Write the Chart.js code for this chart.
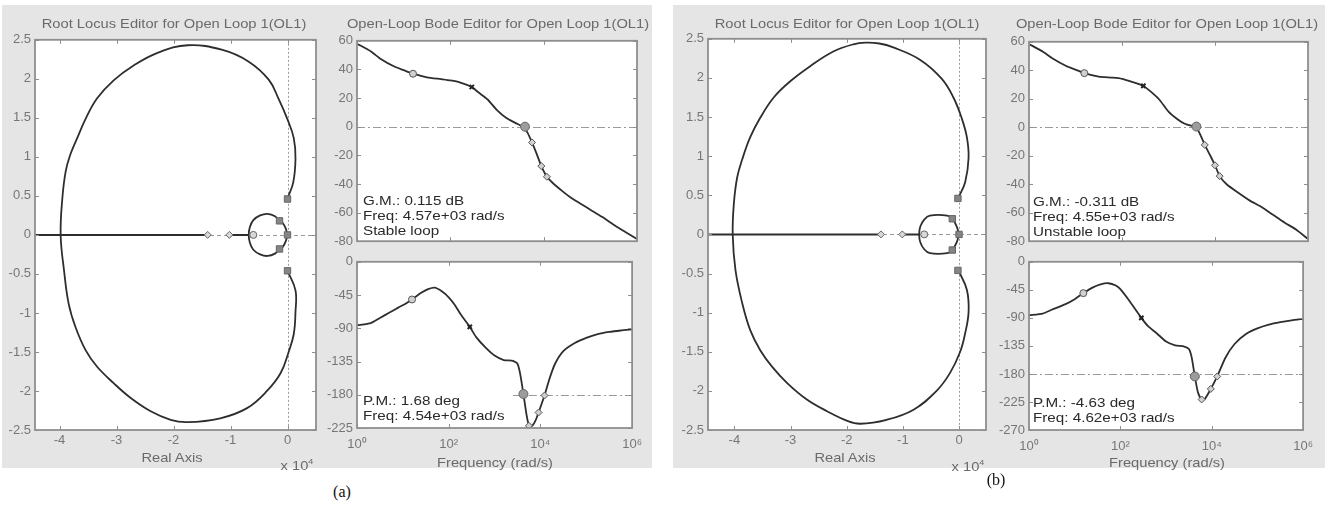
<!DOCTYPE html>
<html>
<head>
<meta charset="utf-8">
<title>SISO design: root locus and open-loop Bode</title>
<script src="https://cdn.jsdelivr.net/npm/chart.js@4.4.0/dist/chart.umd.min.js"></script>
<style>
  body { margin: 0; background: #fff; width: 1338px; height: 507px; position: relative; overflow: hidden;
         font-family: "Liberation Sans", Arial, sans-serif; }
  .panel { position: absolute; background: #e5e5e5; }
  canvas { position: absolute; z-index: 1; }
  .lbl { position: absolute; z-index: 2; white-space: nowrap; color: #6a6a6a; font-size: 13px; transform: translate(-50%, -50%) scaleX(1.13); }
  .note { position: absolute; z-index: 2; white-space: nowrap; color: #2a2a2a; font-size: 13px; line-height: 15px;
          transform: scaleX(1.17); transform-origin: 0 0; }
  .cap { position: absolute; z-index: 2; font-family: "Liberation Serif", "Times New Roman", serif; font-size: 16px; color: #111;
         transform: translate(-50%, -50%); }
</style>
</head>
<body>
<div class="panel" style="left:2px;top:5px;width:650px;height:463px"></div>
<div class="panel" style="left:673px;top:5px;width:652px;height:463px"></div>

<div class="lbl" style="left:174px;top:23px">Root Locus Editor for Open Loop 1(OL1)</div>
<div class="lbl" style="left:498px;top:23px">Open-Loop Bode Editor for Open Loop 1(OL1)</div>
<div class="lbl" style="left:172px;top:457px">Real Axis</div>
<div class="lbl" style="left:297px;top:465px">x 10<sup style="font-size:8px">4</sup></div>
<div class="lbl" style="left:495px;top:462px">Frequency (rad/s)</div>
<div class="note" style="left:363px;top:193px">G.M.: 0.115 dB<br>Freq: 4.57e+03 rad/s<br>Stable loop</div>
<div class="note" style="left:363px;top:393px">P.M.: 1.68 deg<br>Freq: 4.54e+03 rad/s</div>
<div class="cap" style="left:342px;top:492px">(a)</div>

<div class="lbl" style="left:847px;top:23px">Root Locus Editor for Open Loop 1(OL1)</div>
<div class="lbl" style="left:1167px;top:23px">Open-Loop Bode Editor for Open Loop 1(OL1)</div>
<div class="lbl" style="left:845px;top:457px">Real Axis</div>
<div class="lbl" style="left:968px;top:466px">x 10<sup style="font-size:8px">4</sup></div>
<div class="lbl" style="left:1167px;top:462px">Frequency (rad/s)</div>
<div class="note" style="left:1033px;top:194px">G.M.: -0.311 dB<br>Freq: 4.55e+03 rad/s<br>Unstable loop</div>
<div class="note" style="left:1033px;top:395px">P.M.: -4.63 deg<br>Freq: 4.62e+03 rad/s</div>
<div class="cap" style="left:996px;top:480px">(b)</div>

<script>
// ---- data ----
// root locus, real axis in units of 1e4
const REAL_TICKS = [-4, -3, -2, -1, 0];
const IMAG_TICKS_STEP = 0.5;

// (a) big branch, from the upper closed-loop pole round the left and back down
const rlBigXA = [0.0, 0.1, 0.14, 0.11, 0.0, -0.16, -0.33, -0.68, -1.14, -1.75, -2.29, -2.7, -3.05, -3.34, -3.54, -3.69, -3.81, -3.89, -3.95, -3.98,
                 -3.92, -3.84, -3.72, -3.54, -3.34, -3.05, -2.75, -2.4, -2.05, -1.76, -1.18, -0.71, -0.36, -0.12, 0.02, 0.11, 0.14, 0.14, 0.0];
const rlBigYA = [0.47, 0.67, 0.98, 1.24, 1.48, 1.75, 1.99, 2.22, 2.37, 2.43, 2.33, 2.17, 1.98, 1.75, 1.49, 1.24, 1.03, 0.82, 0.47, 0.0,
                 -0.46, -0.88, -1.18, -1.48, -1.69, -1.9, -2.09, -2.26, -2.37, -2.4, -2.35, -2.22, -2.0, -1.77, -1.5, -1.27, -0.99, -0.71, -0.46];
// (a) small loop round the zero
const rlLoopXA = [0, -0.03, -0.08, -0.14, -0.22, -0.35, -0.48, -0.6, -0.66, -0.68, -0.66, -0.6, -0.48, -0.35, -0.22, -0.14, -0.08, -0.03, 0];
const rlLoopYA = [0, 0.08, 0.15, 0.18, 0.24, 0.27, 0.25, 0.19, 0.1, 0, -0.1, -0.19, -0.25, -0.27, -0.24, -0.18, -0.15, -0.08, 0];
const rlSegsA = [[-4.8, -1.4], [-1.02, -0.68]];
const rlDiamondXA = [-1.4, -1.02];
const rlZeroXA = [-0.6];
const rlPoleXA = [0.0, -0.14, 0.0, -0.14, 0.0];
const rlPoleYA = [0.46, 0.18, 0.0, -0.18, -0.46];

// (b)
const rlBigXB = [-0.01, 0.11, 0.17, 0.14, 0.05, -0.1, -0.31, -0.69, -1.17, -1.42, -1.67, -1.88, -2.23, -2.65, -3.0, -3.3, -3.54, -3.72, -3.86, -3.95, -4.01, -4.03,
                 -3.98, -3.86, -3.72, -3.54, -3.33, -3.06, -2.71, -2.35, -2.0, -1.76, -1.29, -0.81, -0.4, -0.16, 0.02, 0.11, 0.17, 0.14, -0.01];
const rlBigYB = [0.47, 0.67, 0.98, 1.24, 1.48, 1.75, 1.99, 2.23, 2.39, 2.44, 2.45, 2.43, 2.34, 2.15, 1.96, 1.75, 1.49, 1.24, 0.96, 0.73, 0.39, 0.0,
                 -0.46, -0.88, -1.22, -1.48, -1.69, -1.9, -2.11, -2.26, -2.38, -2.42, -2.37, -2.24, -2.0, -1.77, -1.5, -1.26, -0.99, -0.71, -0.46];
const rlLoopXB = [0, -0.04, -0.12, -0.21, -0.52, -0.62, -0.69, -0.71, -0.69, -0.62, -0.52, -0.21, -0.12, -0.04, 0];
const rlLoopYB = [0, 0.1, 0.2, 0.24, 0.24, 0.19, 0.1, 0, -0.1, -0.19, -0.24, -0.24, -0.2, -0.1, 0];
const rlSegsB = [[-4.8, -1.39], [-1.01, -0.71]];
const rlDiamondXB = [-1.39, -1.01];
const rlZeroXB = [-0.62];
const rlPoleXB = [-0.02, -0.12, 0.0, -0.12, -0.02];
const rlPoleYB = [0.46, 0.2, 0.0, -0.2, -0.46];

// Bode, frequency given as log10(rad/s)
const FREQ_TICKS = [1, 100, 10000, 1000000];
const FREQ_TICK_LABELS = ['10\u2070', '10\u00b2', '10\u2074', '10\u2076'];

const magExpA = [0, 0.3, 0.5, 0.8, 1.0, 1.2, 1.5, 1.8, 2.0, 2.2, 2.46, 2.6, 2.8, 3.0, 3.2, 3.4, 3.55, 3.65, 3.75, 3.85, 3.95, 4.07, 4.2, 4.4, 4.6, 4.8, 5.0, 5.25, 5.5, 5.75, 6.0];
const magA = [58, 52.5, 47.5, 42, 39.5, 37, 34.5, 33.2, 32.3, 31, 27.7, 24, 19, 11.5, 6, 2.5, 0, -4, -11, -19, -27.5, -35, -39.5, -45, -50, -54, -58, -63, -68.5, -73.5, -78.5];
const phaseExpA = [0, 0.3, 0.5, 0.7, 0.9, 1.05, 1.2, 1.4, 1.55, 1.7, 1.85, 2.0, 2.13, 2.26, 2.46, 2.6, 2.8, 3.0, 3.2, 3.4, 3.5, 3.56, 3.63, 3.7, 3.75, 3.82, 3.9, 3.96, 4.09, 4.2, 4.32, 4.5, 4.75, 5.0, 5.25, 5.5, 5.75, 6.0];
const phaseA = [-86, -83, -76, -69, -62, -57, -51, -42, -37, -35, -40, -48, -58, -71, -88, -102, -116, -127, -133, -134, -138, -152, -179, -208, -221, -222, -214, -204, -181, -158, -138, -121, -110, -103, -98, -95, -93, -91.5];

const magExpB = [0, 0.3, 0.5, 0.8, 1.0, 1.19, 1.5, 1.8, 2.0, 2.2, 2.46, 2.6, 2.8, 3.0, 3.2, 3.35, 3.5, 3.6, 3.68, 3.78, 3.9, 4.0, 4.1, 4.25, 4.5, 4.75, 5.0, 5.25, 5.5, 5.75, 6.0];
const magB = [58.5, 53, 48.5, 43, 40.5, 38, 35.5, 34.8, 34, 32, 29, 25.5, 19.5, 11, 5.5, 2.5, 1, 0, -5, -12.4, -20, -26.7, -34.3, -40, -46, -51.5, -56, -61.5, -67, -72, -78.5];
const phaseExpB = [0, 0.3, 0.5, 0.8, 1.0, 1.19, 1.4, 1.55, 1.74, 1.9, 2.0, 2.2, 2.46, 2.6, 2.8, 3.0, 3.2, 3.4, 3.5, 3.56, 3.63, 3.7, 3.78, 3.85, 3.98, 4.12, 4.3, 4.5, 4.75, 5.0, 5.25, 5.5, 5.75, 6.0];
const phaseB = [-86, -83, -77, -68, -60, -50.3, -41, -36.5, -34.4, -38, -44, -63, -90, -103, -115, -128, -134, -136, -140, -153, -184, -210, -221, -220, -204, -184, -154, -132, -116, -107, -101, -97, -94, -91.6];

// compensator / crossing markers on the Bode curves: [log10 w, value]
const magMarkA = { circle: [[1.2, 37]], cross: [[2.46, 27.7]], big: [[3.6, 0]], diamond: [[3.75, -11], [3.95, -27.5], [4.07, -35]] };
const phaseMarkA = { circle: [[1.2, -51]], cross: [[2.46, -88]], big: [[3.63, -179]], diamond: [[3.75, -222], [3.96, -204], [4.09, -181]] };
const magMarkB = { circle: [[1.19, 38]], cross: [[2.46, 29]], big: [[3.6, 0.5]], diamond: [[3.78, -12.4], [4.0, -26.7], [4.1, -34.3]] };
const phaseMarkB = { circle: [[1.19, -50.3]], cross: [[2.46, -90]], big: [[3.63, -184]], diamond: [[3.78, -221], [3.98, -204], [4.12, -184]] };

// where the -180 deg reference starts in (a), log10 w
const PHASE_REF_START_A = 3.4;

// ---- styling ----
const CURVE = '#2e2e2e';
const AXIS = '#8e8e8e';
const TICK_TXT = '#767676';
const REF = '#9a9a9a';
const TICK_LEN = 4;
Chart.defaults.font.family = '"Liberation Sans", Arial, sans-serif';

function pts(xs, ys) { return xs.map((x, i) => ({ x: x, y: ys[i] })); }
function logPts(exps, ys) { return exps.map((e, i) => ({ x: Math.pow(10, e), y: ys[i] })); }
function logPairs(pairs) { return pairs.map(p => ({ x: Math.pow(10, p[0]), y: p[1] })); }

function curve(data, tension) {
  return { data, showLine: true, pointRadius: 0, borderColor: CURVE, borderWidth: 1.8, tension: tension, fill: false, order: 5 };
}
function marks(data, style, radius, fill, border, bw) {
  return { data, showLine: false, pointStyle: style, pointRadius: radius, backgroundColor: fill,
           borderColor: border, pointBorderWidth: bw, borderWidth: bw, order: 1 };
}
function bodeMarks(m) {
  return [
    marks(logPairs(m.circle), 'circle', 3.5, '#d0d0d0', '#555', 1),
    marks(logPairs(m.diamond), 'rectRot', 3.5, '#d0d0d0', '#555', 1),
    marks(logPairs(m.big), 'circle', 4.5, '#9c9c9c', '#666', 1),
    marks(logPairs(m.cross), 'crossRot', 3, '#222', '#222', 2)
  ];
}

function refLinePlugin(lines) {
  return {
    id: 'refLines',
    beforeDatasetsDraw(chart) {
      const { ctx, chartArea: a, scales } = chart;
      ctx.save();
      ctx.strokeStyle = REF;
      ctx.lineWidth = 1;
      lines.forEach(l => {
        ctx.setLineDash(l.dash);
        ctx.beginPath();
        if (l.axis === 'y') {
          const py = Math.round(scales.y.getPixelForValue(l.value)) + 0.5;
          const x0 = l.from !== undefined ? scales.x.getPixelForValue(l.from) : a.left;
          ctx.moveTo(x0, py); ctx.lineTo(a.right, py);
        } else {
          const px = Math.round(scales.x.getPixelForValue(l.value)) + 0.5;
          ctx.moveTo(px, a.top); ctx.lineTo(px, a.bottom);
        }
        ctx.stroke();
      });
      ctx.restore();
    }
  };
}

// white plot area, then frame with inward tick marks on all four sides
const frameTicks = {
  id: 'frameTicks',
  beforeDraw(chart) {
    const { ctx, chartArea: a } = chart;
    ctx.save();
    ctx.fillStyle = '#ffffff';
    ctx.fillRect(a.left, a.top, a.right - a.left, a.bottom - a.top);
    ctx.restore();
  },
  afterDatasetsDraw(chart) {
    const { ctx, chartArea: a } = chart;
    const sx = chart.scales.x, sy = chart.scales.y;
    ctx.save();
    ctx.strokeStyle = AXIS;
    ctx.lineWidth = 1;
    ctx.beginPath();
    sx.ticks.forEach(t => {
      const px = Math.round(sx.getPixelForValue(t.value)) + 0.5;
      ctx.moveTo(px, a.top); ctx.lineTo(px, a.top + TICK_LEN);
      ctx.moveTo(px, a.bottom); ctx.lineTo(px, a.bottom - TICK_LEN);
    });
    sy.ticks.forEach(t => {
      const py = Math.round(sy.getPixelForValue(t.value)) + 0.5;
      ctx.moveTo(a.left, py); ctx.lineTo(a.left + TICK_LEN, py);
      ctx.moveTo(a.right, py); ctx.lineTo(a.right - TICK_LEN, py);
    });
    ctx.stroke();
    ctx.lineWidth = 1.8;
    ctx.strokeRect(a.left, a.top, a.right - a.left, a.bottom - a.top);
    ctx.restore();
  }
};

const tickFont = { size: 13 };

function makePlot(frame, pad, cfg) {
  const c = document.createElement('canvas');
  const w = frame.r - frame.l + pad.l + pad.r;
  const h = frame.b - frame.t + pad.t + pad.b;
  c.width = w; c.height = h;
  c.style.left = (frame.l - pad.l) + 'px';
  c.style.top = (frame.t - pad.t) + 'px';
  c.style.width = w + 'px';
  c.style.height = h + 'px';
  document.body.appendChild(c);
  const base = { grid: { display: false, drawTicks: false }, border: { display: false } };
  return new Chart(c, {
    type: 'scatter',
    data: { datasets: cfg.datasets },
    options: {
      responsive: false,
      animation: false,
      devicePixelRatio: 1,
      events: [],
      layout: { padding: { top: pad.t, right: pad.r, left: 0, bottom: 0 } },
      plugins: { legend: { display: false }, tooltip: { enabled: false } },
      scales: {
        x: Object.assign({ position: 'bottom', afterFit: s => { s.height = pad.b; } }, base, cfg.x),
        y: Object.assign({ position: 'left', afterFit: s => { s.width = pad.l; } }, base, cfg.y)
      }
    },
    plugins: [refLinePlugin(cfg.refs || []), frameTicks]
  });
}

function rootLocus(frame, xMin, xMax, d) {
  const segs = d.segs.map(s => Object.assign(curve(pts(s, [0, 0]), 0), { borderWidth: 2 }));
  return makePlot(frame, { l: 34, t: 10, r: 6, b: 22 }, {
    datasets: [
      marks(pts(d.poleX, d.poleY), 'rect', 4.5, '#858585', '#666', 1),
      marks(pts(d.diamondX, d.diamondX.map(() => 0)), 'rectRot', 3.5, '#d8d8d8', '#666', 1),
      marks(pts(d.zeroX, d.zeroX.map(() => 0)), 'circle', 3.5, '#d8d8d8', '#666', 1),
      curve(pts(d.bigX, d.bigY), 0.4),
      curve(pts(d.loopX, d.loopY), 0.25)
    ].concat(segs),
    x: {
      type: 'linear', min: xMin, max: xMax,
      afterBuildTicks: s => { s.ticks = REAL_TICKS.map(v => ({ value: v })); },
      ticks: { autoSkip: false, padding: 3, color: TICK_TXT, font: tickFont }
    },
    y: {
      type: 'linear', min: -2.5, max: 2.5,
      ticks: { stepSize: IMAG_TICKS_STEP, padding: 4, color: TICK_TXT, font: tickFont, callback: v => String(v) }
    },
    refs: [{ axis: 'y', value: 0, dash: [4, 3] }, { axis: 'x', value: 0, dash: [2, 2] }]
  });
}

function freqAxis(showLabels) {
  return {
    type: 'logarithmic', min: FREQ_TICKS[0], max: FREQ_TICKS[FREQ_TICKS.length - 1],
    afterBuildTicks: s => { s.ticks = FREQ_TICKS.map(v => ({ value: v })); },
    ticks: { display: showLabels, autoSkip: false, padding: 9, color: TICK_TXT, font: tickFont,
             callback: (v, i) => FREQ_TICK_LABELS[i] }
  };
}

function magPlot(frame, exps, vals, m) {
  return makePlot(frame, { l: 36, t: 10, r: 14, b: 10 }, {
    datasets: bodeMarks(m).concat([curve(logPts(exps, vals), 0.2)]),
    x: freqAxis(false),
    y: { type: 'linear', min: -80, max: 60, ticks: { stepSize: 20, padding: 4, color: TICK_TXT, font: tickFont } },
    refs: [{ axis: 'y', value: 0, dash: [8, 3, 2, 3] }]
  });
}

function phasePlot(frame, exps, vals, m, yMin, refFrom) {
  return makePlot(frame, { l: 36, t: 10, r: 14, b: 28 }, {
    datasets: bodeMarks(m).concat([curve(logPts(exps, vals), 0.2)]),
    x: freqAxis(true),
    y: { type: 'linear', min: yMin, max: 0, ticks: { stepSize: 45, padding: 4, color: TICK_TXT, font: tickFont } },
    refs: [{ axis: 'y', value: -180, from: refFrom, dash: [8, 3, 2, 3] }]
  });
}

// (a)
rootLocus({ l: 35, t: 38, r: 316, b: 430 }, -4.43, 0.5, {
  bigX: rlBigXA, bigY: rlBigYA, loopX: rlLoopXA, loopY: rlLoopYA, segs: rlSegsA,
  diamondX: rlDiamondXA, zeroX: rlZeroXA, poleX: rlPoleXA, poleY: rlPoleYA
});
magPlot({ l: 357, t: 39, r: 637, b: 243 }, magExpA, magA, magMarkA);
phasePlot({ l: 357, t: 260, r: 637, b: 428 }, phaseExpA, phaseA, phaseMarkA, -225, Math.pow(10, PHASE_REF_START_A));

// (b)
rootLocus({ l: 708, t: 37, r: 986, b: 430 }, -4.47, 0.48, {
  bigX: rlBigXB, bigY: rlBigYB, loopX: rlLoopXB, loopY: rlLoopYB, segs: rlSegsB,
  diamondX: rlDiamondXB, zeroX: rlZeroXB, poleX: rlPoleXB, poleY: rlPoleYB
});
magPlot({ l: 1029, t: 40, r: 1308, b: 243 }, magExpB, magB, magMarkB);
phasePlot({ l: 1029, t: 260, r: 1308, b: 430 }, phaseExpB, phaseB, phaseMarkB, -270);
</script>
</body>
</html>
